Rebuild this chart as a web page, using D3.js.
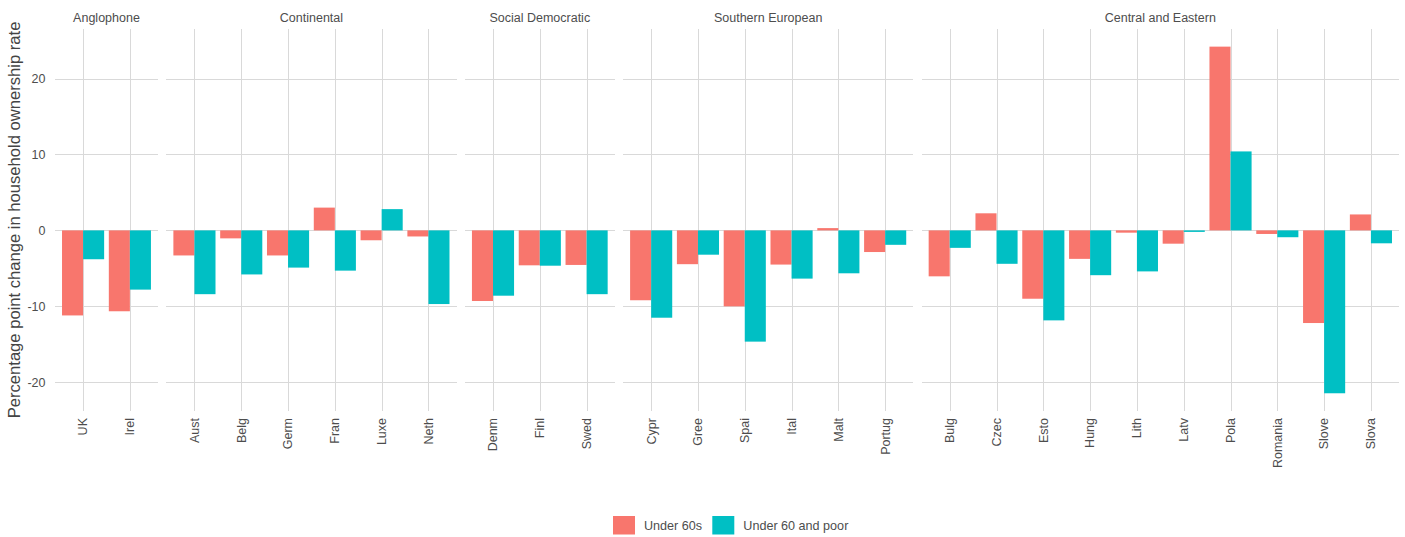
<!DOCTYPE html>
<html>
<head>
<meta charset="utf-8">
<script src="https://cdn.jsdelivr.net/npm/d3@7"></script>
<style>
	body { margin: 0; background: #fff; }
	svg { display: block; font-family: "Liberation Sans", Arial, sans-serif; }
	.grid line { stroke: #d9d9d9; stroke-width: 1; shape-rendering: crispEdges; }
	.strip text { font-size: 12.5px; fill: #4d4d4d; }
	.tick-y text, .tick-x text { font-size: 12.5px; fill: #4d4d4d; }
	.legend text { font-size: 12.6px; fill: #4d4d4d; }
</style>
</head>
<body>
<svg id="chart" width="1405" height="537"></svg>
<script>
(function(d3) {
	'use strict';

	var regimes = ['Anglophone', 'Continental', 'Social Democratic', 'Southern European', 'Central and Eastern'];
	var countries = ['UK', 'Irel',
		'Aust', 'Belg', 'Germ', 'Fran', 'Luxe', 'Neth',
		'Denm', 'Finl', 'Swed',
		'Cypr', 'Gree', 'Spai', 'Ital', 'Malt', 'Portug',
		'Bulg', 'Czec', 'Esto', 'Hung', 'Lith', 'Latv', 'Pola', 'Romania', 'Slove', 'Slova'];
	var regimeOf = [0, 0,
		1, 1, 1, 1, 1, 1,
		2, 2, 2,
		3, 3, 3, 3, 3, 3,
		4, 4, 4, 4, 4, 4, 4, 4, 4, 4];
	var under60s = [-11.2, -10.65,
		-3.3, -1.05, -3.3, 3.0, -1.3, -0.8,
		-9.3, -4.6, -4.55,
		-9.2, -4.45, -10.0, -4.5, 0.3, -2.85,
		-6.05, 2.25, -9.0, -3.75, -0.3, -1.75, 24.2, -0.47, -12.2, 2.1];
	var under60Poor = [-3.8, -7.8,
		-8.4, -5.8, -4.9, -5.3, 2.8, -9.7,
		-8.6, -4.65, -8.4,
		-11.5, -3.2, -14.65, -6.35, -5.65, -1.9,
		-2.3, -4.4, -11.85, -5.9, -5.4, -0.2, 10.4, -0.9, -21.45, -1.7];
	var seriesNames = ['Under 60s', 'Under 60 and poor'];
	var seriesColors = ['#F8766D', '#00BFC4'];
	var yTicks = [-20, -10, 0, 10, 20];
	var yTitle = 'Percentage point change in household ownership rate';

	var svg = d3.select('#chart');
	var plotLeft = 55, plotRight = 1399, plotTop = 29.3, plotBottom = 410.6, panelGap = 8.4;

	/** y scale, with ggplot's 5% expansion */
	var allValues = under60s.concat(under60Poor);
	var yMin = d3.min(allValues), yMax = d3.max(allValues);
	var yPad = (yMax - yMin) * 0.05;
	var y = d3.scaleLinear().domain([yMin - yPad, yMax + yPad]).range([plotBottom, plotTop]);

	/** panels sized by their number of countries */
	var panels = regimes.map(function(name, i) {
		var list = countries.filter(function(c, j) { return regimeOf[j] === i; });
		return { name: name, countries: list, units: list.length - 1 + 1.2 };
	});
	var totalUnits = d3.sum(panels, function(p) { return p.units; });
	var unit = (plotRight - plotLeft - panelGap * (panels.length - 1)) / totalUnits;
	var cursor = plotLeft;
	panels.forEach(function(p) {
		p.x0 = cursor;
		p.x1 = cursor + p.units * unit;
		cursor = p.x1 + panelGap;
	});

	/** y axis title */
	svg.append('text')
		.attr('transform', 'translate(20,' + ((plotTop + plotBottom) / 2) + ') rotate(-90)')
		.attr('text-anchor', 'middle')
		.style('font-size', '16.6px').style('fill', '#444')
		.text(yTitle);

	/** y tick labels */
	svg.append('g').attr('class', 'tick-y').selectAll('text').data(yTicks).enter().append('text')
		.attr('x', 45.5).attr('y', function(d) { return y(d); }).attr('dy', '0.35em')
		.attr('text-anchor', 'end')
		.text(function(d) { return d; });

	panels.forEach(function(p) {
		var x = d3.scalePoint().domain(p.countries).range([p.x0, p.x1]).padding(0.6);
		var step = x.step();
		var dodge = d3.scaleBand().domain(seriesNames).range([-0.45 * step, 0.45 * step]);
		var g = svg.append('g');

		var grid = g.append('g').attr('class', 'grid');
		grid.selectAll('.h').data(yTicks).enter().append('line')
			.attr('x1', p.x0).attr('x2', p.x1)
			.attr('y1', function(d) { return Math.round(y(d)); }).attr('y2', function(d) { return Math.round(y(d)); });
		grid.selectAll('.v').data(p.countries).enter().append('line')
			.attr('x1', function(d) { return Math.round(x(d)) + 0.5; }).attr('x2', function(d) { return Math.round(x(d)) + 0.5; })
			.attr('y1', plotTop).attr('y2', plotBottom);

		/** bars */
		var rows = [];
		p.countries.forEach(function(c) {
			var j = countries.indexOf(c);
			rows.push({ country: c, series: 0, value: under60s[j] });
			rows.push({ country: c, series: 1, value: under60Poor[j] });
		});
		g.append('g').selectAll('rect').data(rows).enter().append('rect')
			.attr('x', function(d) { return x(d.country) + dodge(seriesNames[d.series]); })
			.attr('width', dodge.bandwidth())
			.attr('y', function(d) { return y(Math.max(0, d.value)); })
			.attr('height', function(d) { return Math.abs(y(d.value) - y(0)); })
			.attr('fill', function(d) { return seriesColors[d.series]; });

		/** strip label */
		g.append('g').attr('class', 'strip').append('text')
			.attr('x', (p.x0 + p.x1) / 2).attr('y', 21.6)
			.attr('text-anchor', 'middle')
			.text(p.name);

		/** x tick labels */
		g.append('g').attr('class', 'tick-x').selectAll('text').data(p.countries).enter().append('text')
			.attr('transform', function(d) { return 'translate(' + x(d) + ',418) rotate(-90)'; })
			.attr('text-anchor', 'end').attr('dy', '0.35em')
			.text(function(d) { return d; });
	});

	/** legend */
	var legend = svg.append('g').attr('class', 'legend');
	var legendX = [613, 712.3];
	seriesNames.forEach(function(name, i) {
		legend.append('rect')
			.attr('x', legendX[i]).attr('y', 516).attr('width', 22).attr('height', 18.5)
			.attr('fill', seriesColors[i]);
		legend.append('text')
			.attr('x', legendX[i] + 31).attr('y', 525.5).attr('dy', '0.35em')
			.text(name);
	});
})(d3);
</script>
</body>
</html>
